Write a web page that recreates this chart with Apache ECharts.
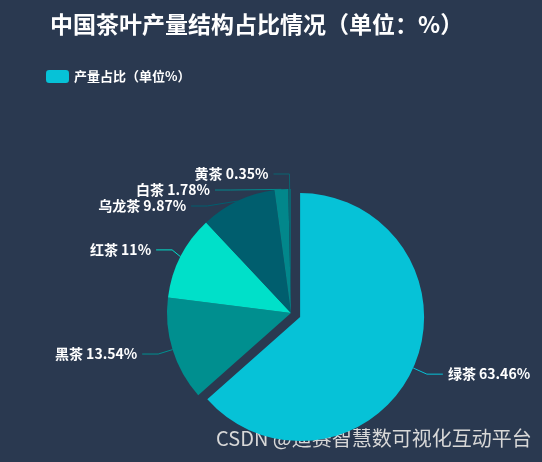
<!DOCTYPE html>
<html><head><meta charset="utf-8">
<script src="https://cdn.jsdelivr.net/npm/echarts@6/dist/echarts.min.js"></script>
<style>html,body{margin:0;padding:0;background:#2a3950;}#c{width:542px;height:462px;}</style>
</head><body><div id="c"></div>
<script>
var categories = ['绿茶', '黑茶', '红茶', '乌龙茶', '白茶', '黄茶'];
var values = [63.46, 13.54, 11, 9.87, 1.78, 0.35];
var colors = ['#06c2d7', '#008f8f', '#00e0c9', '#005e6e', '#02878b', '#0b6470'];
var legendName = '产量占比（单位%）';
var chart = echarts.init(document.getElementById('c'));
chart.setOption({
  backgroundColor: '#2a3950',
  title: {
    text: '中国茶叶产量结构占比情况（单位：%）',
    left: 45, top: 8,
    textStyle: { color: '#ffffff', fontSize: 23, fontWeight: 'bold', fontFamily: 'Noto Sans CJK SC' }
  },
  legend: {
    left: 41, top: 65,
    itemWidth: 23, itemHeight: 13,
    itemGap: 10,
    data: [{ name: legendName, itemStyle: { color: '#06c2d7', borderRadius: 3 } }],
    textStyle: { color: '#ffffff', fontSize: 13, fontWeight: 'bold', fontFamily: 'Noto Sans CJK SC' }
  },
  graphic: [{
    type: 'text', left: 216, top: 428,
    style: { text: 'CSDN @迪赛智慧数可视化互动平台', fill: '#d8d8d8', font: '20px "Noto Sans CJK SC"',
      shadowColor: 'rgba(0,0,0,0.6)', shadowBlur: 2, shadowOffsetX: 1, shadowOffsetY: 1 }
  }],
  series: [{
    name: legendName,
    type: 'pie',
    center: [291, 313],
    radius: 124,
    startAngle: 90,
    selectedMode: 'single',
    selectedOffset: 10,
    color: colors,
    label: {
      formatter: '{b} {c}%',
      color: '#ffffff', fontSize: 14, fontWeight: 'bold', fontFamily: 'Noto Sans CJK SC'
    },
    labelLine: { length: 15, length2: 16 },
    data: categories.map(function (n, i) {
      return { name: n, value: values[i], selected: i === 0 };
    })
  }]
});
</script></body></html>
